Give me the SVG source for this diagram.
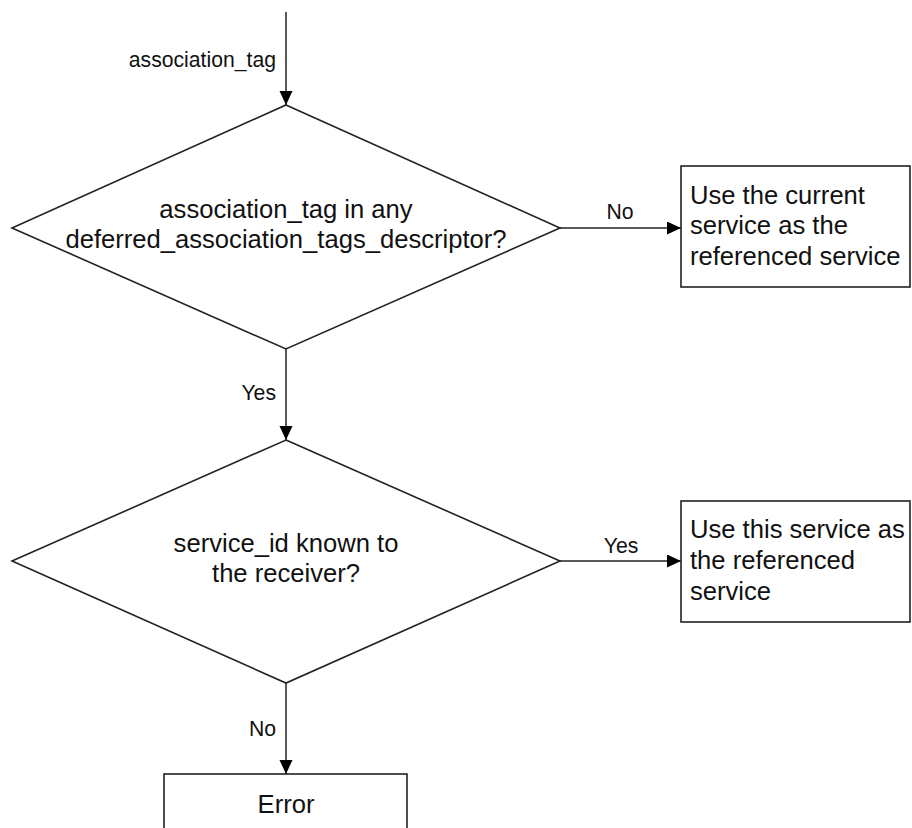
<svg xmlns="http://www.w3.org/2000/svg" width="912" height="828" viewBox="0 0 912 828">
<style>
text{font-family:"Liberation Sans",Arial,sans-serif;fill:#111}
.n{font-size:25.6px}
.l{font-size:21.2px}
.shape{fill:#fff;stroke:#222;stroke-width:1.6}
.c{fill:none;stroke:#222;stroke-width:1.5}
</style>
<defs>
<marker id="arr" markerUnits="userSpaceOnUse" markerWidth="15" markerHeight="14" refX="14" refY="6.5" orient="auto">
<path d="M0,0 L14,6.5 L0,13 z" fill="#000"/>
</marker>
</defs>
<rect width="912" height="828" fill="#fff"/>
<g id="connectors">
<line class="c" x1="286" y1="12" x2="286" y2="105" marker-end="url(#arr)"/>
<line class="c" x1="560" y1="228" x2="681" y2="228" marker-end="url(#arr)"/>
<line class="c" x1="286" y1="349" x2="286" y2="440" marker-end="url(#arr)"/>
<line class="c" x1="560" y1="561" x2="681" y2="561" marker-end="url(#arr)"/>
<line class="c" x1="286" y1="683" x2="286" y2="774" marker-end="url(#arr)"/>
<text class="l" x="276" y="67" text-anchor="end">association_tag</text>
<text class="l" x="620" y="219" text-anchor="middle">No</text>
<text class="l" x="276" y="400" text-anchor="end">Yes</text>
<text class="l" x="621" y="553" text-anchor="middle">Yes</text>
<text class="l" x="276" y="736" text-anchor="end">No</text>
</g>
<g id="decision1">
<polygon class="shape" points="286,105 560,228 286,349 12,228"/>
<text class="n" x="286" y="218" text-anchor="middle">association_tag in any</text>
<text class="n" x="286" y="248" text-anchor="middle">deferred_association_tags_descriptor?</text>
</g>
<g id="current">
<rect class="shape" x="681" y="166" width="229" height="121"/>
<text class="n" x="690" y="204">Use the current</text>
<text class="n" x="690" y="234">service as the</text>
<text class="n" x="690" y="265">referenced service</text>
</g>
<g id="decision2">
<polygon class="shape" points="286,440 560,561 286,683 12,561"/>
<text class="n" x="286" y="552" text-anchor="middle">service_id known to</text>
<text class="n" x="286" y="582" text-anchor="middle">the receiver?</text>
</g>
<g id="thisservice">
<rect class="shape" x="681" y="501" width="229" height="121"/>
<text class="n" x="690" y="538">Use this service as</text>
<text class="n" x="690" y="569">the referenced</text>
<text class="n" x="690" y="600">service</text>
</g>
<g id="error">
<rect class="shape" x="164" y="774" width="243" height="70"/>
<text class="n" x="286" y="813" text-anchor="middle">Error</text>
</g>
</svg>
